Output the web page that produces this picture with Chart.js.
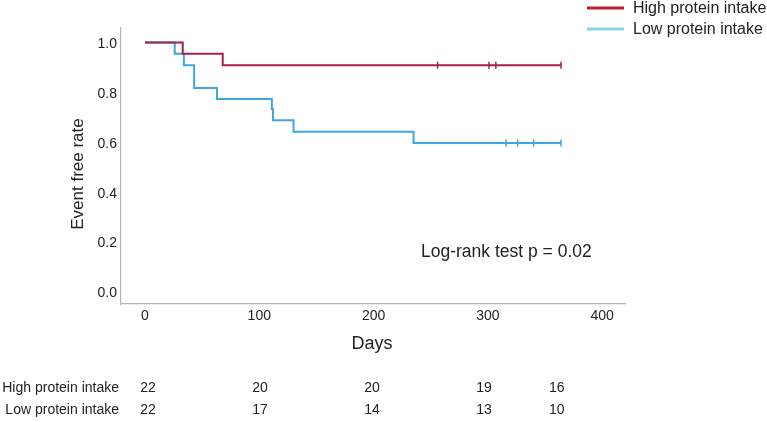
<!DOCTYPE html>
<html lang="en">
<head>
  <meta charset="UTF-8" />
  <title>Event free rate by protein intake</title>
  <script src="https://cdn.jsdelivr.net/npm/chart.js"></script>
  <style>
    html, body { margin: 0; padding: 0; background: #fff; }
    #wrap { width: 767px; height: 422px; position: relative; }
  </style>
</head>
<body>
  <div id="wrap"><canvas id="kmChart"></canvas></div>

  <script>
    // Kaplan-Meier steps
    const highDays = [0, 33, 68, 364];
    const highRate = [1.0, 0.955, 0.909, 0.909];
    const highCensorDays = [256, 301, 307, 364];
    const highCensorRate = [0.909, 0.909, 0.909, 0.909];

    const lowDays = [0, 26, 34, 43, 63, 111, 112, 130, 235, 364];
    const lowRate = [1.0, 0.955, 0.909, 0.818, 0.773, 0.733, 0.688, 0.642, 0.597, 0.597];
    const lowCensorDays = [316, 326, 340, 364];
    const lowCensorRate = [0.597, 0.597, 0.597, 0.597];

    const xTicks = [0, 100, 200, 300, 400];
    const yTicks = [0, 0.2, 0.4, 0.6, 0.8, 1.0];

    const groups = ['High protein intake', 'Low protein intake'];
    const riskDays = [0, 100, 200, 300, 365];
    const highAtRisk = [22, 20, 20, 19, 16];
    const lowAtRisk = [22, 17, 14, 13, 10];

    const redLine = '#a3214c';
    const blueLine = '#3fa6e1';
    const font = '"Liberation Sans", Arial, sans-serif';

    const pts = (xs, ys) => xs.map((x, i) => ({ x: x, y: ys[i] }));

    const extras = {
      id: 'extras',
      afterDraw(chart) {
        const ctx = chart.ctx;
        const area = chart.chartArea;
        ctx.save();
        ctx.fillStyle = '#222';

        // axis titles
        ctx.font = '17px ' + font;
        ctx.textAlign = 'center';
        ctx.textBaseline = 'middle';
        ctx.save();
        ctx.translate(78, (area.top + area.bottom) / 2 + 8);
        ctx.rotate(-Math.PI / 2);
        ctx.fillText('Event free rate', 0, 0);
        ctx.restore();
        ctx.font = '18px ' + font;
        ctx.fillText('Days', 372, 344);

        // log-rank annotation
        ctx.font = '17.5px ' + font;
        ctx.textAlign = 'left';
        ctx.fillText('Log-rank test p = 0.02', 421, 252);

        // legend
        ctx.font = '16px ' + font;
        const legendRows = [[groups[0], '#b8232f', 8], [groups[1], '#8dcff0', 29]];
        legendRows.forEach(([txt, col, y]) => {
          ctx.strokeStyle = col;
          ctx.lineWidth = 3;
          ctx.beginPath();
          ctx.moveTo(587, y);
          ctx.lineTo(624, y);
          ctx.stroke();
          ctx.fillText(txt, 633, y + 1);
        });

        // numbers at risk (own column spacing under the plot)
        const colX = d => 148 + d * 1.12;
        ctx.font = '14px ' + font;
        const rows = [[groups[0], highAtRisk, 388], [groups[1], lowAtRisk, 410]];
        rows.forEach(([txt, vals, y]) => {
          ctx.textAlign = 'right';
          ctx.fillText(txt, 119, y);
          ctx.textAlign = 'center';
          vals.forEach((v, i) => ctx.fillText(String(v), colX(riskDays[i]), y));
        });
        ctx.restore();
      }
    };

    new Chart(document.getElementById('kmChart'), {
      type: 'line',
      data: {
        datasets: [
          {
            label: groups[0],
            data: pts(highDays, highRate),
            borderColor: redLine,
            borderWidth: 2,
            stepped: 'before',
            pointRadius: 0,
            fill: false
          },
          {
            label: groups[1],
            data: pts(lowDays, lowRate),
            borderColor: blueLine,
            borderWidth: 2,
            stepped: 'before',
            pointRadius: 0,
            fill: false
          },
          {
            type: 'scatter',
            label: 'high censored',
            data: pts(highCensorDays, highCensorRate),
            borderColor: redLine,
            borderWidth: 1.5,
            pointStyle: 'line',
            rotation: 90,
            pointRadius: 3.5
          },
          {
            type: 'scatter',
            label: 'low censored',
            data: pts(lowCensorDays, lowCensorRate),
            borderColor: blueLine,
            borderWidth: 1.5,
            pointStyle: 'line',
            rotation: 90,
            pointRadius: 3.5
          }
        ]
      },
      options: {
        responsive: true,
        maintainAspectRatio: false,
        animation: false,
        layout: { padding: { left: 0, top: 28, right: 142, bottom: 0 } },
        plugins: {
          legend: { display: false },
          tooltip: { enabled: false }
        },
        scales: {
          x: {
            type: 'linear',
            min: -21,
            max: 420,
            afterBuildTicks: s => { s.ticks = xTicks.map(v => ({ value: v })); },
            afterFit: s => { s.height = 422 - 304; },
            grid: { drawOnChartArea: false, drawTicks: false },
            border: { color: '#b5b5b5', width: 1.2 },
            ticks: {
              padding: 4,
              color: '#222',
              font: { family: font, size: 14 },
              callback: v => String(v)
            }
          },
          y: {
            type: 'linear',
            min: -0.048,
            max: 1.058,
            afterBuildTicks: s => { s.ticks = yTicks.map(v => ({ value: v })); },
            afterFit: s => { s.width = 121; },
            grid: { drawOnChartArea: false, drawTicks: false },
            border: { color: '#b5b5b5', width: 1.2 },
            ticks: {
              padding: 4,
              labelOffset: 1.5,
              color: '#222',
              font: { family: font, size: 14 },
              callback: v => v.toFixed(1)
            }
          }
        }
      },
      plugins: [extras]
    });
  </script>
</body>
</html>
